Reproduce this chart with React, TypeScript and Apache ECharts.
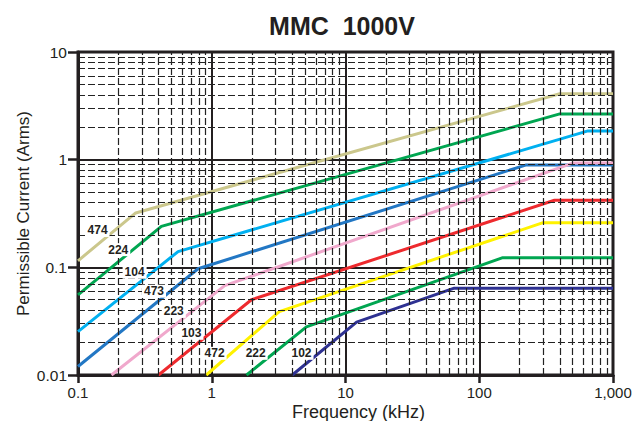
import React, { useEffect, useRef } from "react";
import * as echarts from "echarts";

const seriesNames = ["474", "224", "104", "473", "223", "103", "472", "222", "102"];
const seriesColors = ["#cbc78c", "#00a651", "#00b0f0", "#2277c4", "#f0a8cc", "#ee2a2e", "#fff200", "#00a651", "#2e3192"];

const s474 = [[0.1, 0.115], [0.27, 0.32], [400, 4.1], [1000, 4.1]];
const s224 = [[0.1, 0.0555], [0.42, 0.24], [400, 2.66], [1000, 2.66]];
const s104 = [[0.1, 0.0253], [0.56, 0.14], [650, 1.85], [1000, 1.85]];
const s473 = [[0.1, 0.012], [0.79, 0.097], [222, 0.89], [1000, 0.89]];
const s223 = [[0.178, 0.01], [1.25, 0.0676], [500, 0.93], [1000, 0.93]];
const s103 = [[0.4, 0.01], [1.98, 0.05], [365, 0.42], [1000, 0.42]];
const s472 = [[0.91, 0.01], [3.2, 0.0388], [300, 0.26], [1000, 0.26]];
const s222 = [[1.82, 0.01], [5.1, 0.028], [150, 0.123], [1000, 0.123]];
const s102 = [[4.0, 0.01], [12.1, 0.031], [65, 0.064], [1000, 0.064]];
const seriesData = [s474, s224, s104, s473, s223, s103, s472, s222, s102];

const labelFreq = [0.14, 0.2, 0.265, 0.37, 0.52, 0.705, 1.05, 2.13, 4.69];
const labelCurrent = [0.22, 0.146, 0.09, 0.06, 0.039, 0.0244, 0.0159, 0.0159, 0.0159];

const xDecades = [0.1, 1, 10, 100];
const yDecades = [0.01, 0.1, 1];
const minorSteps = [2, 3, 4, 5, 6, 7, 8, 9];

const FONT = "'Liberation Sans', Arial, Helvetica, sans-serif";
const INK = "#231f20";

export default function App() {
  const ref = useRef<HTMLDivElement>(null);
  useEffect(() => {
    if (!ref.current) return;
    const chart = echarts.init(ref.current, undefined, { renderer: "svg" });
    const minorX: any[] = [];
    xDecades.forEach((d) => minorSteps.forEach((k) => minorX.push({ xAxis: +(d * k).toPrecision(3) })));
    const minorY: any[] = [];
    yDecades.forEach((d) => minorSteps.forEach((k) => minorY.push({ yAxis: +(d * k).toPrecision(3) })));

    const series: any[] = [
      {
        type: "line",
        data: [],
        silent: true,
        z: 1,
        markLine: {
          silent: true,
          symbol: ["none", "none"],
          label: { show: false },
          lineStyle: { type: [7, 3], color: "#222", width: 1.2 },
          emphasis: { disabled: true },
          data: [...minorX, ...minorY],
        },
      },
    ];
    seriesData.forEach((d, i) => {
      series.push({
        type: "line",
        name: seriesNames[i],
        data: d,
        showSymbol: false,
        silent: true,
        z: 3,
        lineStyle: { color: seriesColors[i], width: 3 },
        itemStyle: { color: seriesColors[i] },
        markPoint: {
          silent: true,
          symbol: "rect",
          symbolSize: 0,
          z: 10,
          data: [{ coord: [labelFreq[i], labelCurrent[i]], name: seriesNames[i] }],
          label: {
            show: true,
            position: "inside",
            formatter: "{b}",
            backgroundColor: "#fff",
            padding: [1, 2, 0, 2],
            fontFamily: FONT,
            fontWeight: "bold",
            fontSize: 12,
            color: INK,
          },
        },
      });
    });

    chart.setOption({
      animation: false,
      backgroundColor: "#fff",
      title: {
        text: "MMC  1000V",
        left: 337,
        top: 8,
        textAlign: "center",
        textStyle: { fontFamily: FONT, fontWeight: "bold", fontSize: 25, color: INK },
      },
      grid: {
        left: 78,
        right: 23,
        top: 52,
        bottom: 46,
        show: true,
        borderColor: INK,
        borderWidth: 3,
        backgroundColor: "transparent",
        containLabel: false,
        outerBoundsMode: "none",
      },
      xAxis: {
        type: "log",
        logBase: 10,
        min: 0.1,
        max: 1000,
        name: "Frequency (kHz)",
        nameLocation: "middle",
        nameGap: 28,
        nameMoveOverlap: false,
        nameTextStyle: { fontFamily: FONT, fontSize: 18, lineHeight: 17, color: INK, padding: [0, 0, 0, 26] },
        axisLine: { show: true, lineStyle: { color: INK, width: 3 } },
        axisTick: { show: true, length: 8, lineStyle: { color: INK, width: 2.5 } },
        axisLabel: {
          fontFamily: FONT,
          fontSize: 15,
          color: INK,
          margin: 10,
          formatter: (v: number) => v.toLocaleString("en-US"),
        },
        splitLine: { show: true, lineStyle: { color: INK, width: 2, type: "solid" } },
        minorTick: { show: false },
        minorSplitLine: { show: false },
      },
      yAxis: {
        type: "log",
        logBase: 10,
        min: 0.01,
        max: 10,
        name: "Permissible Current (Arms)",
        nameLocation: "middle",
        nameGap: 46,
        nameMoveOverlap: false,
        nameTextStyle: { fontFamily: FONT, fontSize: 17, color: INK },
        axisLine: { show: true, lineStyle: { color: INK, width: 3 } },
        axisTick: { show: true, length: 10, lineStyle: { color: INK, width: 2.5 } },
        axisLabel: {
          fontFamily: FONT,
          fontSize: 15.5,
          color: INK,
          margin: 11,
          formatter: (v: number) => v.toLocaleString("en-US"),
        },
        splitLine: { show: true, lineStyle: { color: INK, width: 2, type: "solid" } },
        minorTick: { show: false },
        minorSplitLine: { show: false },
      },
      series,
    });
    return () => chart.dispose();
  }, []);
  return <div ref={ref} style={{ width: 636, height: 421, position: "absolute", left: 0, top: 0 }} />;
}
